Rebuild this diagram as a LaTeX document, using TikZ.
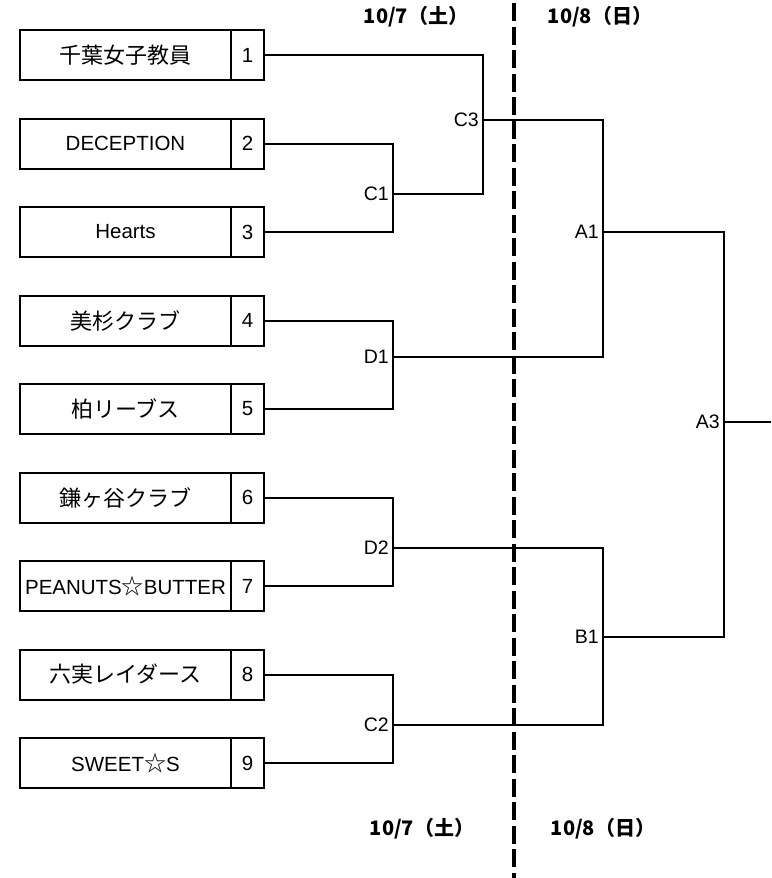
\documentclass[tikz,border=0pt]{standalone}
\usepackage{fontspec}
\setmainfont{Liberation Sans}
\newfontfamily\cjk{Noto Sans CJK JP}
\newcommand{\jp}{\cjk\fontsize{22}{24}\selectfont}
\begin{document}
\begin{tikzpicture}[x=1pt,y=-1pt,
  namebox/.style={draw, line width=2pt, minimum width=211pt, minimum height=50pt, inner sep=0pt, font=\fontsize{20.5}{22}\selectfont},
  numbox/.style={draw, line width=2pt, minimum width=33pt, minimum height=50pt, inner sep=0pt, font=\fontsize{20.5}{22}\selectfont},
  conn/.style={line width=2pt},
  mlabel/.style={anchor=east, inner sep=0pt, xshift=-4pt, font=\fontsize{19.5}{22}\selectfont},
  datelabel/.style={inner sep=0pt, font=\cjk\bfseries\fontsize{20}{22}\selectfont}]
\useasboundingbox (0,0) rectangle (771,878);

% teams
\node[namebox] (n1) at (125.5,55) {\jp 千葉女子教員};
\node[numbox]  (k1) at (247.5,55) {1};
\node[namebox] (n2) at (125.5,143.5) {DECEPTION};
\node[numbox]  (k2) at (247.5,143.5) {2};
\node[namebox] (n3) at (125.5,232) {Hearts};
\node[numbox]  (k3) at (247.5,232) {3};
\node[namebox] (n4) at (125.5,320.5) {\jp 美杉クラブ};
\node[numbox]  (k4) at (247.5,320.5) {4};
\node[namebox] (n5) at (125.5,409) {\jp 柏リーブス};
\node[numbox]  (k5) at (247.5,409) {5};
\node[namebox] (n6) at (125.5,497.5) {\jp 鎌ヶ谷クラブ};
\node[numbox]  (k6) at (247.5,497.5) {6};
\node[namebox] (n7) at (125.5,586) {PEANUTS{\jp ☆}BUTTER};
\node[numbox]  (k7) at (247.5,586) {7};
\node[namebox] (n8) at (125.5,674.5) {\jp 六実レイダース};
\node[numbox]  (k8) at (247.5,674.5) {8};
\node[namebox] (n9) at (125.5,763) {SWEET{\jp ☆}S};
\node[numbox]  (k9) at (247.5,763) {9};

% match points
\coordinate (C1) at (393,194);
\coordinate (D1) at (393,357);
\coordinate (D2) at (393,548);
\coordinate (C2) at (393,725);
\coordinate (C3) at (483,120);
\coordinate (A1) at (603,232);
\coordinate (B1) at (603,637);
\coordinate (A3) at (724,422);
\coordinate (fin) at (771,422);

% connectors
\draw[conn] (k1.east) -| (C3);
\draw[conn] (k2.east) -| (C1);
\draw[conn] (k3.east) -| (C1);
\draw[conn] (k4.east) -| (D1);
\draw[conn] (k5.east) -| (D1);
\draw[conn] (k6.east) -| (D2);
\draw[conn] (k7.east) -| (D2);
\draw[conn] (k8.east) -| (C2);
\draw[conn] (k9.east) -| (C2);
\draw[conn] (C1) -| (C3);
\draw[conn] (C3) -| (A1);
\draw[conn] (D1) -| (A1);
\draw[conn] (D2) -| (B1);
\draw[conn] (C2) -| (B1);
\draw[conn] (A1) -| (A3);
\draw[conn] (B1) -| (A3);
\draw[conn] (A3) -- (fin);

% match labels
\node[mlabel] (lC1) at (C1) {C1};
\node[mlabel] (lD1) at (D1) {D1};
\node[mlabel] (lD2) at (D2) {D2};
\node[mlabel] (lC2) at (C2) {C2};
\node[mlabel] (lC3) at (C3) {C3};
\node[mlabel] (lA1) at (A1) {A1};
\node[mlabel] (lB1) at (B1) {B1};
\node[mlabel] (lA3) at (A3) {A3};

% day divider
\coordinate (dtop) at (513.5,3);
\coordinate (dbot) at (513.5,878);
\draw[line width=4pt, dash pattern=on 18pt off 5.5pt] (dtop) -- (dbot);

% dates
\node[datelabel] (t1) at (416,17) {10/7（土）};
\node[datelabel] (t2) at (600,17) {10/8（日）};
\node[datelabel] (b1) at (422,829) {10/7（土）};
\node[datelabel] (b2) at (603,829) {10/8（日）};
\end{tikzpicture}
\end{document}
